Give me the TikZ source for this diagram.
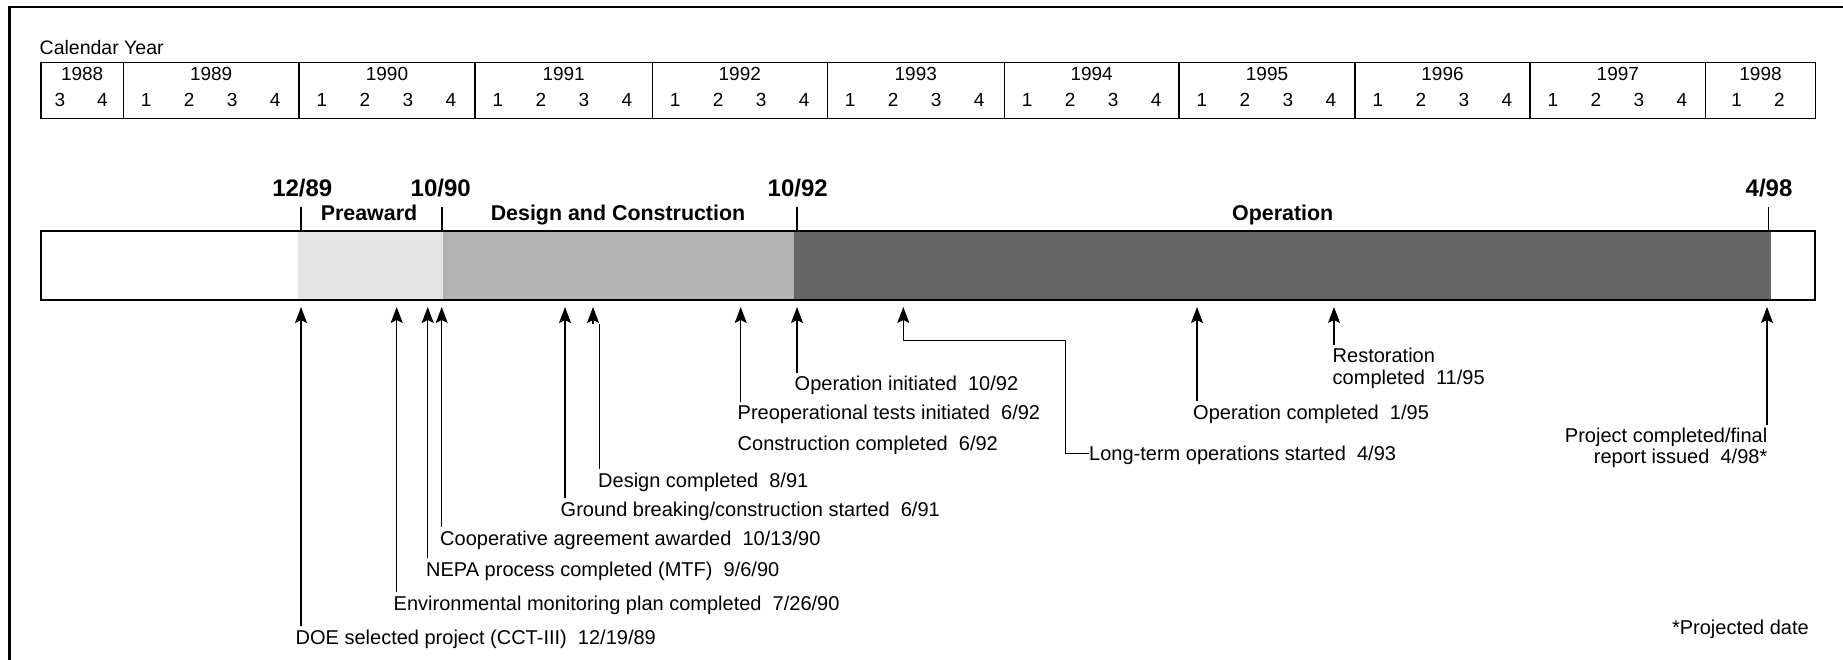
\documentclass[tikz,border=0pt]{standalone}
\usepackage{fontspec}
\setmainfont{Liberation Sans}
\usetikzlibrary{arrows.meta}
\definecolor{preawardfill}{HTML}{E4E4E4}
\definecolor{designfill}{HTML}{B2B2B2}
\definecolor{operfill}{HTML}{666666}
\begin{document}
\begin{tikzpicture}[x=1pt,y=-1pt,
  every node/.style={inner sep=0pt},
  calhead/.style={font=\fontsize{19.5}{22}\selectfont, anchor=base west},
  cal/.style={font=\fontsize{19}{22}\selectfont, anchor=base},
  milestone/.style={font=\fontsize{24}{26}\selectfont\bfseries, anchor=base},
  phase/.style={font=\fontsize{21.4}{24}\selectfont\bfseries, anchor=base},
  evt/.style={font=\fontsize{20}{21.5}\selectfont, inner xsep=0pt, inner ysep=3pt},
  conn/.style={line width=1.1pt},
  arr/.style={conn, -{Stealth[length=16pt,width=12pt,inset=3pt]}},
  tick/.style={line width=1.1pt},
  grid/.style={line width=1.2pt},
]
\useasboundingbox (0,0) rectangle (1843,660);

% page frame (only the top and left edges fall inside the picture)
\draw[line width=2.3pt] (9.5,700) -- (9.5,6.8) -- (1900,6.8);

% ---------- calendar strip ----------
\node[calhead] (calyr) at (39.5,54.3) {Calendar Year};
\draw[grid] (41,62.3) rectangle (1815.3,118.3);
\foreach \xs in {123.3,299,475,652.3,827.3,1004.3,1179,1355,1530,1705.7}
  \draw[grid] (\xs,62.3) -- (\xs,118.3);

\foreach \yr/\a/\b in {1988/41/123.3,1989/123.3/299,1990/299/475,1991/475/652.3,
    1992/652.3/827.3,1993/827.3/1004.3,1994/1004.3/1179,1995/1179/1355,
    1996/1355/1530,1997/1530/1705.7,1998/1705.7/1815.3}
  \node[cal] (y\yr) at ({(\a+\b)/2},80.7) {\yr};

\node[cal] (q1988-3) at (60,106.7) {3};
\node[cal] (q1988-4) at (102.3,106.7) {4};
\foreach \yr/\s in {1989/123.3,1990/299,1991/475,1992/652.3,1993/827.3,
    1994/1004.3,1995/1179,1996/1355,1997/1530}
  \foreach \q in {1,...,4}
    \node[cal] (q\yr-\q) at ({\s+22.8+43*(\q-1)},106.7) {\q};
\node[cal] (q1998-1) at (1736.7,106.7) {1};
\node[cal] (q1998-2) at (1779.3,106.7) {2};

% ---------- project phase bar ----------
\fill[white]        (41.3,231.2)  rectangle (297.7,300.3);
\fill[preawardfill] (297.7,231.2) rectangle (442.7,300.3);
\fill[designfill]   (442.7,231.2) rectangle (794,300.3);
\fill[operfill]     (794,231.2)   rectangle (1770.7,300.3);
\fill[white]        (1770.7,231.2) rectangle (1814.7,300.3);
\draw[line width=2.3pt] (41.3,231.2) rectangle (1814.7,300.3);

% phase boundaries
\node[milestone] (m1289) at (302.3,197) {12/89};
\node[milestone] (m1090) at (440.7,197) {10/90};
\node[milestone] (m1092) at (797.7,197) {10/92};
\node[milestone] (m0498) at (1769,197) {4/98};
\coordinate (b1289) at (301,231.2);
\coordinate (b1090) at (442,231.2);
\coordinate (b1092) at (797,231.2);
\coordinate (b0498) at (1768.7,231.2);
\foreach \b in {b1289,b1090,b1092,b0498}
  \draw[tick] (\b) -- ++(0,-24);

\node[phase] (pre) at (369,220.7) {Preaward};
\node[phase] (dc)  at (618,220.7) {Design and Construction};
\node[phase] (op)  at (1282.7,220.7) {Operation};

% ---------- events ----------
\coordinate (tDOE)  at (301,307);
\coordinate (tEnv)  at (396.7,307);
\coordinate (tNEPA) at (427.7,307);
\coordinate (tCoop) at (441.7,307);
\coordinate (tGrd)  at (565,307);
\coordinate (tDes)  at (593,307);
\coordinate (hDes)  at (593,324);
\coordinate (tPre)  at (740.7,307);
\coordinate (tOpI)  at (797,307);
\coordinate (tLT)   at (903.3,307);
\coordinate (kLT)   at (1065.7,340.7);
\coordinate (tOpC)  at (1197,307);
\coordinate (tRes)  at (1334,307);
\coordinate (tPrj)  at (1767,307);

\node[evt, anchor=base west] (eDOE)  at (295.5,644) {DOE selected project (CCT-III)~~12/19/89};
\node[evt, anchor=base west] (eEnv)  at (393.5,610) {Environmental monitoring plan completed~~7/26/90};
\node[evt, anchor=base west] (eNEPA) at (426,576)   {NEPA process completed (MTF)~~9/6/90};
\node[evt, anchor=base west] (eCoop) at (440,545)   {Cooperative agreement awarded~~10/13/90};
\node[evt, anchor=base west] (eGrd)  at (560.5,516) {Ground breaking/construction started~~6/91};
\node[evt, anchor=base west] (eDes)  at (598,487)   {Design completed~~8/91};
\node[evt, anchor=base west] (eCon)  at (737.5,450) {Construction completed~~6/92};
\node[evt, anchor=base west] (ePre)  at (737.5,419.5) {Preoperational tests initiated~~6/92};
\node[evt, anchor=base west] (eOpI)  at (794.5,390.5) {Operation initiated~~10/92};
\node[evt, anchor=base west] (eLT)   at (1089,460.5) {Long-term operations started~~4/93};
\node[evt, anchor=base west] (eOpC)  at (1193,419)  {Operation completed~~1/95};
\node[evt, anchor=north west, align=left]  (eRes) at (1332.5,345) {Restoration\\completed~~11/95};
\node[evt, anchor=north east, align=right] (ePrj) at (1767.5,424.7) {Project completed/final\\report issued~~4/98*};
\node[evt, anchor=base east] (note) at (1809,634) {*Projected date};

\draw[arr] (eDOE.north west -| tDOE)  -- (tDOE);
\draw[arr] (eEnv.north west -| tEnv)  -- (tEnv);
\draw[arr] (eNEPA.north west -| tNEPA) -- (tNEPA);
\draw[arr] (eCoop.north west -| tCoop) -- (tCoop);
\draw[arr] (eGrd.north west -| tGrd)  -- (tGrd);
\draw[conn] ([xshift=1.5pt]eDes.north west) -- ([xshift=1.5pt]eDes.north west |- hDes);
\draw[arr] (hDes) -- (tDes);
\draw[arr] (ePre.north west -| tPre)  -- (tPre);
\draw[arr] (eOpI.north west -| tOpI)  -- (tOpI);
\draw[arr] ([yshift=7pt]eLT.base west) -| (kLT) -| (tLT);
\draw[arr] (eOpC.north west -| tOpC)  -- (tOpC);
\draw[arr] (eRes.north west -| tRes)  -- (tRes);
\draw[arr] (ePrj.north east -| tPrj)  -- (tPrj);
\end{tikzpicture}
\end{document}
